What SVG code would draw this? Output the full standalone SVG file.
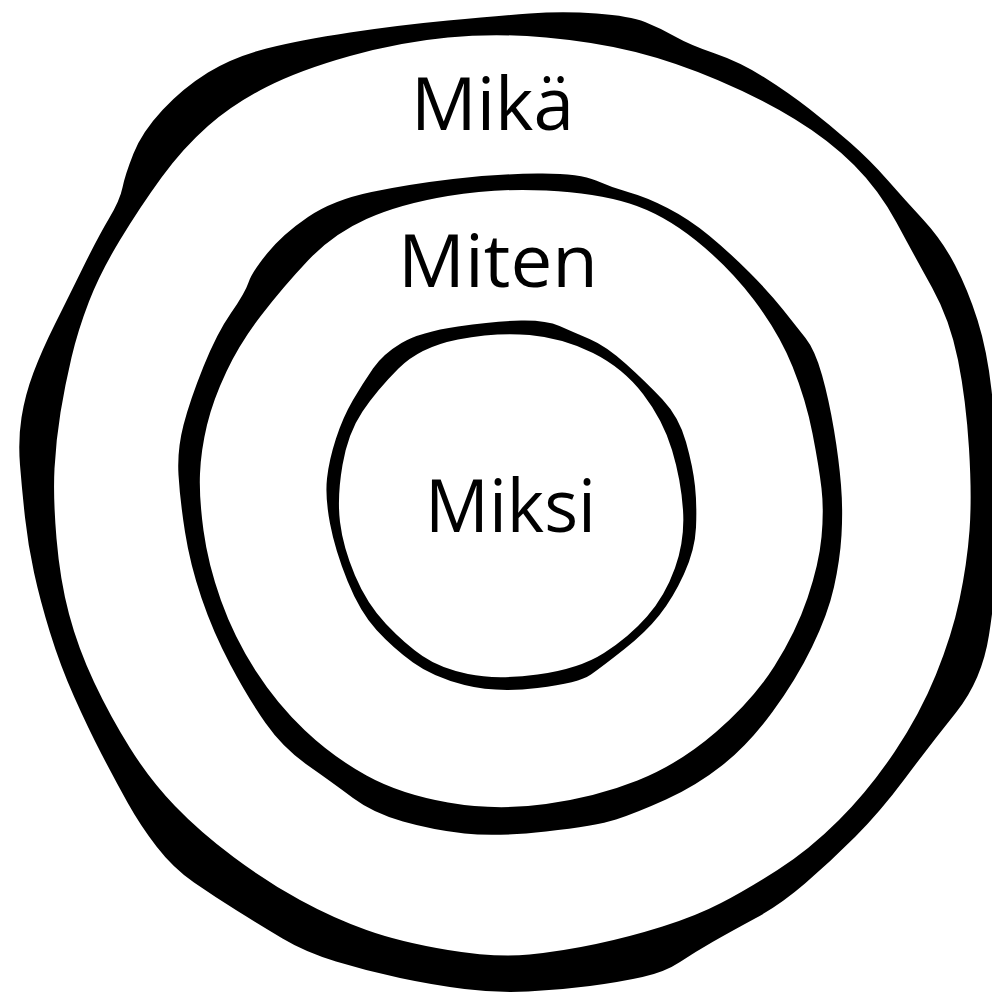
<svg xmlns="http://www.w3.org/2000/svg" width="992" height="994" viewBox="0 0 992 994">
<style>
.ring{fill:#000;fill-rule:evenodd}
.lbl{font-family:"Open Sans","Liberation Sans",sans-serif;font-size:74px;fill:#000}
</style>
<rect width="992" height="994" fill="#fff"/>
<g id="outer">
<path class="ring" d="M 529.5,13.5 Q 563,11 596.5,13.5 Q 630,16 645,22 Q 660,28 675,36.5 Q 690,45 715,53.5 Q 740,62 764.5,77.5 Q 789,93 809.5,109 Q 830,125 850,142.5 Q 870,160 887.5,180 Q 905,200 923.5,220 Q 942,240 955,265 Q 968,290 977.5,320 Q 987,350 991.5,390 Q 996,430 998,465 Q 1000,500 998,545 Q 996,590 989,635 Q 982,680 956,712.5 Q 930,745 905,778.5 Q 880,812 855,837 Q 830,862 805,883.5 Q 780,905 755,918.5 Q 730,932 712.5,942 Q 695,952 680,962 Q 665,972 642.5,977 Q 620,982 590,986 Q 560,990 528,991.5 Q 496,993 464.5,989 Q 433,985 400,978 Q 367,971 336,961.5 Q 305,952 282.5,938.5 Q 260,925 237.5,911 Q 215,897 194,882.5 Q 173,868 156.5,846.5 Q 140,825 127.5,802.5 Q 115,780 101.5,754 Q 88,728 74,696.5 Q 60,665 50,632.5 Q 40,600 34,572.5 Q 28,545 25,517.5 Q 22,490 20,465 Q 18,440 21.5,417.5 Q 25,395 33.5,372.5 Q 42,350 54.5,325 Q 67,300 82.5,268.5 Q 98,237 109,218.5 Q 120,200 122.5,187.5 Q 125,175 133.5,153.5 Q 142,132 162.5,110 Q 183,88 208,72.5 Q 233,57 266.5,48.5 Q 300,40 350,32.5 Q 400,25 448,20.5 Q 496,16 529.5,13.5 Z M 546,37.5 Q 596,42 635.5,52 Q 675,62 717.5,80 Q 760,98 794.5,119 Q 829,140 854,165 Q 879,190 896.5,222.5 Q 914,255 932,287.5 Q 950,320 958,360 Q 966,400 969,448.5 Q 972,497 969.5,530.5 Q 967,564 959.5,599.5 Q 952,635 936,674.5 Q 920,714 894.5,752 Q 869,790 839,820 Q 809,850 777.5,870 Q 746,890 721,903 Q 696,916 662.5,926.5 Q 629,937 596,944 Q 563,951 529.5,954.5 Q 496,958 448,950 Q 400,942 366.5,930 Q 333,918 300,900 Q 267,882 233.5,857 Q 200,832 175,806 Q 150,780 130,748 Q 110,716 94,682 Q 78,648 69,614 Q 60,580 56.5,538.5 Q 53,497 54.5,468.5 Q 56,440 60.5,412.5 Q 65,385 71.5,357.5 Q 78,330 89,301.5 Q 100,273 120,240 Q 140,207 161.5,177.5 Q 183,148 208,126 Q 233,104 266.5,87 Q 300,70 350,56 Q 400,42 448,37.5 Q 496,33 546,37.5 Z"/>
<text class="lbl" x="411" y="130" textLength="163" lengthAdjust="spacingAndGlyphs">Mikä</text>
</g>
<g id="middle">
<path class="ring" d="M 537.5,173.5 Q 579,173 596,180.5 Q 613,188 629.5,192.5 Q 646,197 667.5,208 Q 689,219 709,235.5 Q 729,252 749,272 Q 769,292 782.5,309 Q 796,326 805.5,338 Q 815,350 822,375 Q 829,400 834,430 Q 839,460 841,485 Q 843,510 841.5,535 Q 840,560 834,587 Q 828,614 812,647 Q 796,680 772,712.5 Q 748,745 722,765.5 Q 696,786 666,799.5 Q 636,813 616,819.5 Q 596,826 546,831.5 Q 496,837 464.5,833.5 Q 433,830 403,821.5 Q 373,813 353,798 Q 333,783 308,765.5 Q 283,748 265.5,723 Q 248,698 230.5,665 Q 213,632 201.5,598 Q 190,564 185,532 Q 180,500 178.5,475 Q 177,450 183.5,425 Q 190,400 203.5,366.5 Q 217,333 231,313 Q 245,293 248.5,282.5 Q 252,272 267.5,253 Q 283,234 308,217 Q 333,200 371.5,192 Q 410,184 453,179 Q 496,174 537.5,173.5 Z M 546,190.5 Q 596,193 629.5,203.5 Q 663,214 696,240.5 Q 729,267 754,300 Q 779,333 792.5,366.5 Q 806,400 812.5,433.5 Q 819,467 821.5,488.5 Q 824,510 821.5,537 Q 819,564 807.5,598 Q 796,632 774.5,666 Q 753,700 716,732 Q 679,764 637.5,780.5 Q 596,797 546,804 Q 496,811 448,802.5 Q 400,794 366.5,775.5 Q 333,757 305,730.5 Q 277,704 255.5,670.5 Q 234,637 221,600.5 Q 208,564 203.5,530.5 Q 199,497 200,473.5 Q 201,450 207,425 Q 213,400 226.5,371.5 Q 240,343 261.5,315 Q 283,287 308,260.5 Q 333,234 366.5,219 Q 400,204 448,196 Q 496,188 546,190.5 Z"/>
<text class="lbl" x="398" y="287" textLength="200" lengthAdjust="spacingAndGlyphs">Miten</text>
</g>
<g id="inner">
<path class="ring" d="M 521,320.5 Q 546,320 559.5,326 Q 573,332 589.5,339 Q 606,346 626,364 Q 646,382 662.5,399.5 Q 679,417 686,442 Q 693,467 695,486 Q 697,505 696,527.5 Q 695,550 684,574 Q 673,598 659.5,615 Q 646,632 624.5,649 Q 603,666 591,674.5 Q 579,683 537.5,688 Q 496,693 464.5,685 Q 433,677 413,662.5 Q 393,648 376.5,630 Q 360,612 347.5,581 Q 335,550 330,523.5 Q 325,497 327,478.5 Q 329,460 336,438.5 Q 343,417 353,400 Q 363,383 373,368.5 Q 383,354 401.5,343 Q 420,332 458,326.5 Q 496,321 521,320.5 Z M 529.5,335 Q 563,338 593,353 Q 623,368 643,394 Q 663,420 672,450 Q 681,480 683,510 Q 685,540 675,568 Q 665,596 647,616.5 Q 629,637 604,653 Q 579,669 537.5,674.5 Q 496,680 468,674 Q 440,668 422.5,656 Q 405,644 386,624 Q 367,604 355,575.5 Q 343,547 340,522 Q 337,497 342.5,465 Q 348,433 362.5,411.5 Q 377,390 398.5,368.5 Q 420,347 458,339.5 Q 496,332 529.5,335 Z"/>
<text class="lbl" x="425" y="532" textLength="171" lengthAdjust="spacingAndGlyphs">Miksi</text>
</g>
<g id="connectors"/>
</svg>
